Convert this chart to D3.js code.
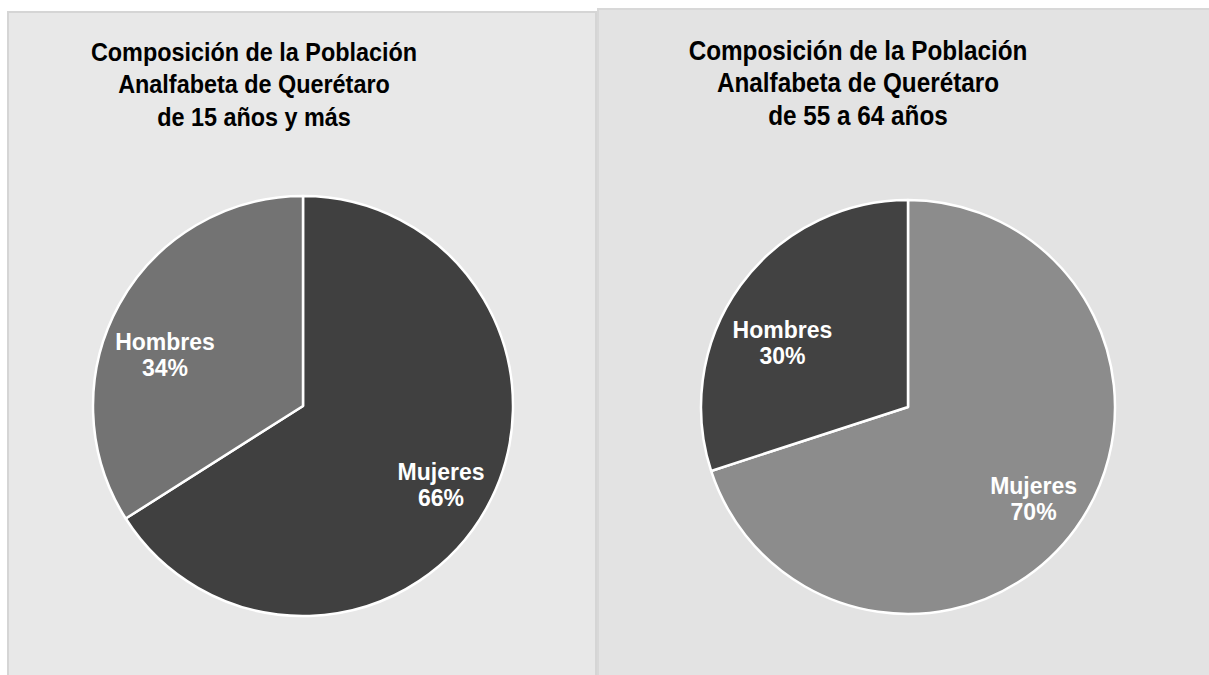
<!DOCTYPE html>
<html>
<head>
<meta charset="utf-8">
<script src="https://cdn.jsdelivr.net/npm/d3@7"></script>
<style>
  html, body { margin: 0; padding: 0; background: #ffffff; }
  svg { display: block; font-family: "Liberation Sans", Arial, sans-serif; }
</style>
</head>
<body>
<svg id="chart" width="1209" height="675"></svg>
<script>
// Datos
const categorias = ['Mujeres', 'Hombres'];
const valores15ymas = [66, 34];
const valores55a64 = [70, 30];
const titulo15ymas = ['Composición de la Población', 'Analfabeta de Querétaro', 'de 15 años y más'];
const titulo55a64 = ['Composición de la Población', 'Analfabeta de Querétaro', 'de 55 a 64 años'];
const colores15ymas = ['#404040', '#737373'];
const colores55a64 = ['#8c8c8c', '#424242'];

const svg = d3.select('#chart');

const paneles = [
  { x: 8, y: 12, w: 588, h: 670, fill: '#e8e8e8', stroke: '#d5d5d5',
    tx: 254, ty: 61, fs: 26, cx: 303, cy: 406, r: 210,
    valores: valores15ymas, colores: colores15ymas, titulo: titulo15ymas },
  { x: 598, y: 9, w: 616, h: 672, fill: '#e3e3e3', stroke: '#d8d8d8',
    tx: 858, ty: 60, fs: 27, cx: 908, cy: 407, r: 207,
    valores: valores55a64, colores: colores55a64, titulo: titulo55a64 }
];

const pie = d3.pie().sort(null).value((d) => d.valor);

paneles.forEach((p) => {
  svg.append('rect')
    .attr('x', p.x).attr('y', p.y)
    .attr('width', p.w).attr('height', p.h)
    .attr('fill', p.fill)
    .attr('stroke', p.stroke)
    .attr('stroke-width', 2);

  // título (tipografía algo condensada como en el original)
  svg.append('text')
    .attr('transform', `translate(${p.tx},${p.ty}) scale(0.9,1)`)
    .attr('text-anchor', 'middle')
    .attr('font-size', p.fs).attr('font-weight', 'bold')
    .attr('fill', '#000')
    .selectAll('tspan')
    .data(p.titulo)
    .join('tspan')
    .attr('x', 0)
    .attr('dy', (_, i) => (i === 0 ? 0 : 32.5))
    .text((d) => d);

  const datos = categorias.map((c, i) => ({ cat: c, valor: p.valores[i], color: p.colores[i] }));
  const arcos = pie(datos);
  const arc = d3.arc().innerRadius(0).outerRadius(p.r);
  const arcEtiqueta = d3.arc().innerRadius(p.r * 0.75).outerRadius(p.r * 0.75);

  const g = svg.append('g').attr('transform', `translate(${p.cx},${p.cy})`);

  g.selectAll('path')
    .data(arcos)
    .join('path')
    .attr('d', arc)
    .attr('fill', (d) => d.data.color)
    .attr('stroke', '#ffffff')
    .attr('stroke-width', 2.5)
    .attr('stroke-linejoin', 'round');

  g.selectAll('text.etiqueta')
    .data(arcos)
    .join('text')
    .attr('class', 'etiqueta')
    .attr('text-anchor', 'middle')
    .attr('font-size', 23).attr('font-weight', 'bold')
    .attr('fill', '#ffffff')
    .each(function (d) {
      const [x, y] = arcEtiqueta.centroid(d);
      const yb = y * 0.86 + 9;
      const t = d3.select(this);
      t.append('tspan').attr('x', x).attr('y', yb).text(d.data.cat);
      t.append('tspan').attr('x', x).attr('y', yb + 26).text(d.data.valor + '%');
    });
});
</script>
</body>
</html>
